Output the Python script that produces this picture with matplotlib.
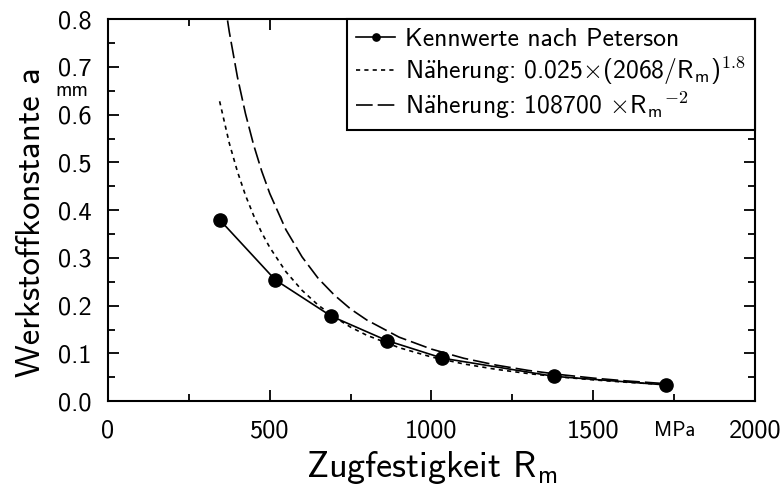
import matplotlib
matplotlib.use("Agg")
import matplotlib.pyplot as plt
from matplotlib.ticker import MultipleLocator

plt.rcParams['font.family'] = ['cmss10', 'DejaVu Sans']
plt.rcParams['mathtext.fontset'] = 'cm'
plt.rcParams['axes.unicode_minus'] = False
plt.rcParams['axes.formatter.use_mathtext'] = True

# Kennwerte nach Peterson
rm_pet = [345, 517, 690, 862, 1034, 1379, 1724]
a_pet = [0.380, 0.254, 0.178, 0.127, 0.090, 0.052, 0.034]

# Naeherung 0.025*(2068/Rm)^1.8
rm_n1 = [345, 375, 400, 425, 450, 475, 500, 550, 600, 650, 700, 750, 800,
         900, 1000, 1100, 1200, 1300, 1400, 1500, 1600, 1724]
a_n1 = [0.628, 0.540, 0.481, 0.431, 0.389, 0.353, 0.322, 0.271, 0.232, 0.201,
        0.176, 0.155, 0.138, 0.112, 0.0925, 0.0779, 0.0666, 0.0577, 0.0505,
        0.0446, 0.0397, 0.0347]

# Naeherung 108700*Rm^-2
rm_n2 = [345, 360, 375, 400, 425, 450, 475, 500, 550, 600, 650, 700, 750, 800,
         900, 1000, 1100, 1200, 1300, 1400, 1500, 1600, 1724]
a_n2 = [0.913, 0.839, 0.773, 0.679, 0.602, 0.537, 0.482, 0.435, 0.359, 0.302,
        0.257, 0.222, 0.193, 0.170, 0.134, 0.109, 0.0898, 0.0755, 0.0643,
        0.0555, 0.0483, 0.0425, 0.0366]

fig = plt.figure(figsize=(7.83, 4.91), dpi=100)
ax = fig.add_axes([0.138, 0.183, 0.826, 0.778])

ae = r'N$\mathsf{\ddot{a}}$herung'
ax.plot(rm_pet, a_pet, '-', color='black', lw=1.2, marker='o', ms=9.5,
        label='Kennwerte nach Peterson')
ax.plot(rm_n1, a_n1, color='black', lw=1.2, ls=(0, (2.5, 2.5)),
        label=ae + r': 0.025$\times$(2068/R$_\mathsf{m}$)$^{\mathsf{1.8}}$')
ax.plot(rm_n2, a_n2, color='black', lw=1.2, ls=(0, (10, 3)),
        label=ae + r': 108700 $\times$R$_\mathsf{m}$$^{\mathsf{-2}}$')

ax.set_xlim(0, 2000)
ax.set_ylim(0, 0.8)
ax.xaxis.set_major_locator(MultipleLocator(500))
ax.xaxis.set_minor_locator(MultipleLocator(250))
ax.yaxis.set_major_locator(MultipleLocator(0.1))
ax.yaxis.set_minor_locator(MultipleLocator(0.05))
ax.yaxis.set_major_formatter(lambda v, p: f"{v:.1f}")
ax.xaxis.set_major_formatter(lambda v, p: f"{v:.0f}")
ax.tick_params(which='both', direction='in', top=True, right=True,
               labelsize=19, width=1.3)
ax.tick_params(which='major', length=8)
ax.tick_params(axis='x', which='major', pad=13.5)
ax.tick_params(axis='y', which='major', pad=12)
ax.tick_params(which='minor', length=5)
for s in ax.spines.values():
    s.set_linewidth(1.5)

ax.text(1752, -0.062, 'MPa', ha='center', va='center', fontsize=15,
        transform=ax.transData, clip_on=False)
ax.text(-60, 0.65, 'mm', ha='right', va='center', fontsize=15,
        transform=ax.transData, clip_on=False)

ax.set_xlabel(r'Zugfestigkeit R$_\mathsf{m}$', fontsize=26)
ax.set_ylabel('Werkstoffkonstante a', fontsize=25)
ax.xaxis.set_label_coords(0.5, -0.125)
ax.yaxis.set_label_coords(-0.094, 0.469)

leg = ax.legend(loc='upper right', borderaxespad=0, fontsize=18.5,
                handlelength=1.5, handletextpad=0.4, labelspacing=0.12,
                borderpad=0.35, fancybox=False, framealpha=1,
                edgecolor='black', markerscale=0.55)
leg.get_frame().set_linewidth(1.5)

fig.savefig('out.png', dpi=100)
